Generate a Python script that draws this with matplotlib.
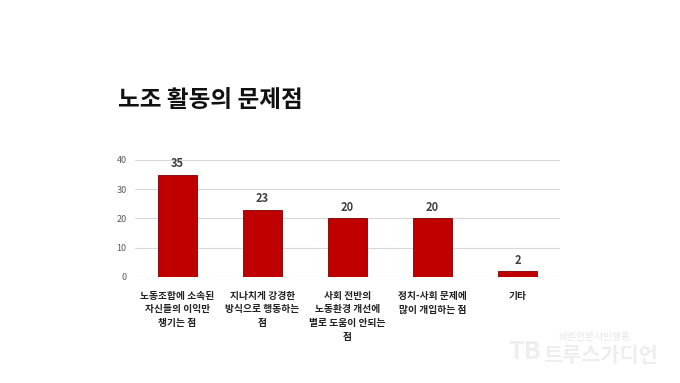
import matplotlib
matplotlib.use("Agg")
import matplotlib.pyplot as plt

plt.rcParams['font.family'] = ['Noto Sans CJK KR', 'DejaVu Sans']

categories = ['노동조합에 소속된\n자신들의 이익만\n챙기는 점',
              '지나치게 강경한\n방식으로 행동하는\n점',
              '사회 전반의\n노동환경 개선에\n별로 도움이 안되는\n점',
              '정치-사회 문제에\n많이 개입하는 점',
              '기타']
values = [35, 23, 20, 20, 2]
yticks = [0, 10, 20, 30, 40]

fig = plt.figure(figsize=(6.8, 3.83), dpi=100)
ax = fig.add_axes([135 / 680, 1 - 277 / 383, 425 / 680, 117 / 383])

x = range(len(values))
bars = ax.bar(x, values, width=0.45, color='#C00000', edgecolor='#7a0000', linewidth=0.6, zorder=3)
for xi, v in zip(x, values):
    ax.text(xi, v + 1.5, str(v), ha='center', va='bottom', fontsize=8,
            fontweight='bold', color='#404040')

ax.set_xlim(-0.5, len(values) - 0.5)
ax.set_ylim(0, 40)
ax.set_yticks(yticks)
ax.set_yticklabels([str(t) for t in yticks], fontsize=6.5, color='#595959')
ax.yaxis.grid(True, color='#D9D9D9', linewidth=0.8, zorder=0)
ax.set_xticks(list(x))
ax.set_xticklabels(categories, fontsize=7, fontweight='bold', color='#222222',
                   linespacing=1.45, va='top')
ax.tick_params(axis='y', length=0, pad=6)
ax.tick_params(axis='x', length=0, pad=10)
for s in ax.spines.values():
    s.set_visible(False)

fig.text(118 / 680, 1 - 100 / 383, '노조 활동의 문제점', fontsize=17, fontweight='bold',
         color='#111111', va='center', ha='left')

# watermark
fig.text(594 / 680, 1 - 337 / 383, '바른언론시민행동', fontsize=7, color='#e6e6e6',
         ha='center', va='center')
fig.text(600 / 680, 1 - 355 / 383, '트루스가디언', fontsize=15, fontweight='bold',
         color='#eeeeee', ha='center', va='center')
fig.text(525 / 680, 1 - 352 / 383, 'TB', fontsize=18, fontweight='bold',
         color='#eeeeee', ha='center', va='center')

fig.savefig('out.png', dpi=100, facecolor='white')
